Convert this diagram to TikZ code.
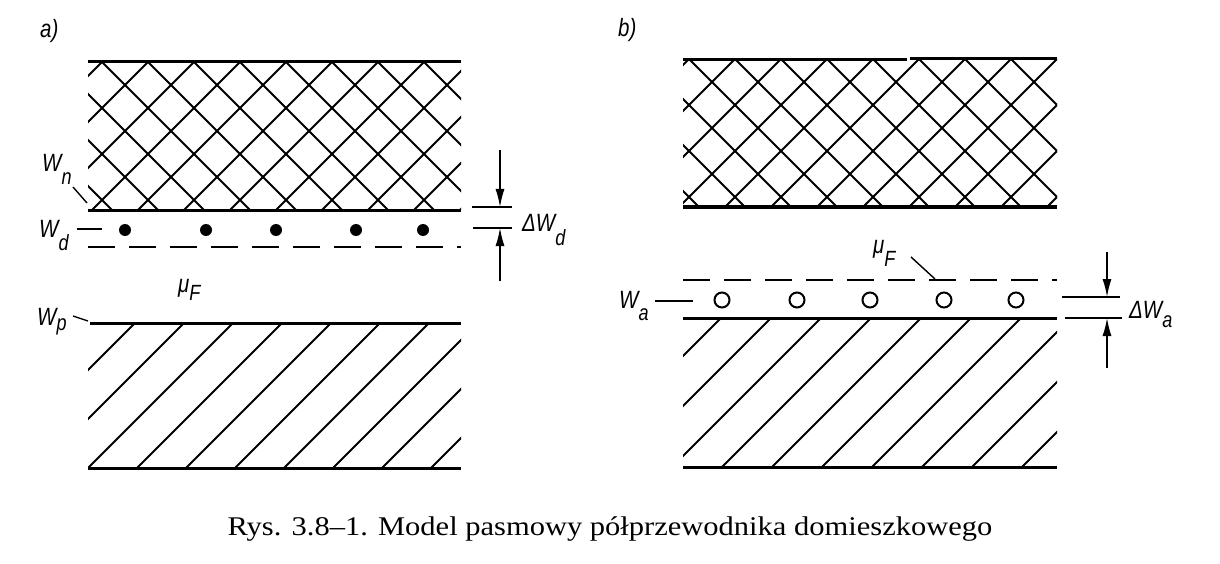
\documentclass[tikz,border=0pt]{standalone}
\usepackage{graphicx}
\usepackage{fontspec}
\setmainfont{Liberation Serif}
\newfontfamily\lblfont{Liberation Sans}
\usetikzlibrary{arrows.meta}
\newcommand{\Lb}[1]{\scalebox{0.82}[1]{#1}}
\newcommand{\Sb}[2]{\raisebox{-#1pt}{\fontsize{22}{22}\selectfont #2}}
\begin{document}
\begin{tikzpicture}[x=1pt,y=-1pt,
  band/.style={line width=3pt},
  hatch/.style={line width=1.8pt},
  thin/.style={line width=1.4pt},
  dashline/.style={line width=2.2pt,dash pattern=on 27pt off 14pt},
  lbl/.style={inner sep=0pt,anchor=base west,font=\lblfont\itshape\fontsize{25}{25}\selectfont},
  dot/.style={circle,fill=black,inner sep=0pt,minimum size=12pt},
  ring/.style={circle,draw=black,line width=2pt,inner sep=0pt,minimum size=15pt},
  dimarrow/.style={line width=1.4pt,-{Latex[length=18pt,width=9pt]}}]
\useasboundingbox (0,0) rectangle (1220,564);
\fill[white] (0,0) rectangle (1220,564);

% ---------------- panel a ----------------
\node[lbl] (la) at (40,38) {\Lb{a)}};
\begin{scope}
\clip (88,62) rectangle (461,210);
\foreach \k in {-4,...,12} {
  \draw[hatch] ({102+46*\k},62) -- ++(170,170);
  \draw[hatch] ({102+46*\k},62) -- ++(-170,170);
}
\end{scope}
\draw[band] (88,62) -- (461,62);
\draw[band] (88,210) -- (461,210);
\begin{scope}
\clip (88,323) rectangle (461,468);
\foreach \k in {0,...,10} {
  \draw[hatch] ({458+49*\k-323},323) -- ++(-200,200);
}
\end{scope}
\draw[band] (90,323) -- (461,323);
\draw[band] (88,468) -- (461,468);
\foreach \x [count=\i] in {125,206,276,356,423} {
  \node[dot] (d\i) at (\x,230) {};
}
\draw[dashline] (88,247) -- (461,247);
\node[lbl] (wn) at (42,172) {\Lb{W\Sb{13}{n}}};
\coordinate (wn1) at (73,187); \coordinate (wn2) at (87,203);
\draw[thin] (wn1) -- (wn2);
\node[lbl] (wd) at (39,237) {\Lb{W\Sb{13}{d}}};
\coordinate (wd1) at (77,229); \coordinate (wd2) at (102,229);
\draw[thin] (wd1) -- (wd2);
\node[lbl] (muA) at (178,292) {\Lb{μ\Sb{8}{F}}};
\node[lbl] (wp) at (37,325) {\Lb{W\Sb{5}{p}}};
\coordinate (wp1) at (73,316); \coordinate (wp2) at (88,321);
\draw[thin] (wp1) -- (wp2);
\coordinate (ta1) at (472,207); \coordinate (ta2) at (512,207);
\coordinate (tb1) at (473,228); \coordinate (tb2) at (512,228);
\draw[thin] (ta1) -- (ta2);
\draw[thin] (tb1) -- (tb2);
\coordinate (aa0) at (500,150); \coordinate (aa1) at (500,207);
\coordinate (ab0) at (500,281); \coordinate (ab1) at (500,228);
\draw[dimarrow] (aa0) -- (aa1);
\draw[dimarrow] (ab0) -- (ab1);
\node[lbl] (dwd) at (522,231) {\Lb{ΔW\Sb{14}{d}}};

% ---------------- panel b ----------------
\node[lbl] (lb) at (618,37) {\Lb{b)}};
\begin{scope}
\clip (683,59) rectangle (1057,207);
\foreach \k in {-4,...,12} {
  \draw[hatch] ({689+46*\k},59) -- ++(170,170);
  \draw[hatch] ({689+46*\k},59) -- ++(-170,170);
}
\end{scope}
\draw[band] (683,60) -- (907,60);
\draw[band] (910,59) -- (1057,59);
\draw[band] (683,207) -- (1057,207);
\begin{scope}
\clip (683,318) rectangle (1057,467);
\foreach \k in {0,...,10} {
  \draw[hatch] ({1039+50*\k-318},318) -- ++(-200,200);
}
\end{scope}
\draw[band] (683,318) -- (1057,318);
\draw[band] (683,467) -- (1057,467);
\foreach \x [count=\i] in {722,797,870,944,1016} {
  \node[ring] (r\i) at (\x,300) {};
}
\draw[dashline] (683,280) -- (1057,280);
\node[lbl] (muB) at (873,253) {\Lb{μ\Sb{13}{F}}};
\coordinate (mb1) at (911,257); \coordinate (mb2) at (935,279);
\draw[thin] (mb1) -- (mb2);
\node[lbl] (wa) at (619,308) {\Lb{W\Sb{12}{a}}};
\coordinate (wa1) at (655,301); \coordinate (wa2) at (693,301);
\draw[thin] (wa1) -- (wa2);
\coordinate (tc1) at (1062,297); \coordinate (tc2) at (1120,297);
\coordinate (td1) at (1065,318); \coordinate (td2) at (1122,318);
\draw[thin] (tc1) -- (tc2);
\draw[thin] (td1) -- (td2);
\coordinate (ac0) at (1107,252); \coordinate (ac1) at (1107,297);
\coordinate (ad0) at (1107,368); \coordinate (ad1) at (1107,318);
\draw[dimarrow] (ac0) -- (ac1);
\draw[dimarrow] (ad0) -- (ad1);
\node[lbl] (dwa) at (1129,318) {\Lb{ΔW\Sb{9}{a}}};

% caption
\node[inner sep=0pt,anchor=base] (cap) at (610,535)
  {\fontsize{27}{30}\selectfont\scalebox{1.13}[1]{Rys. 3.8--1. Model pasmowy półprzewodnika domieszkowego}};
\end{tikzpicture}
\end{document}
